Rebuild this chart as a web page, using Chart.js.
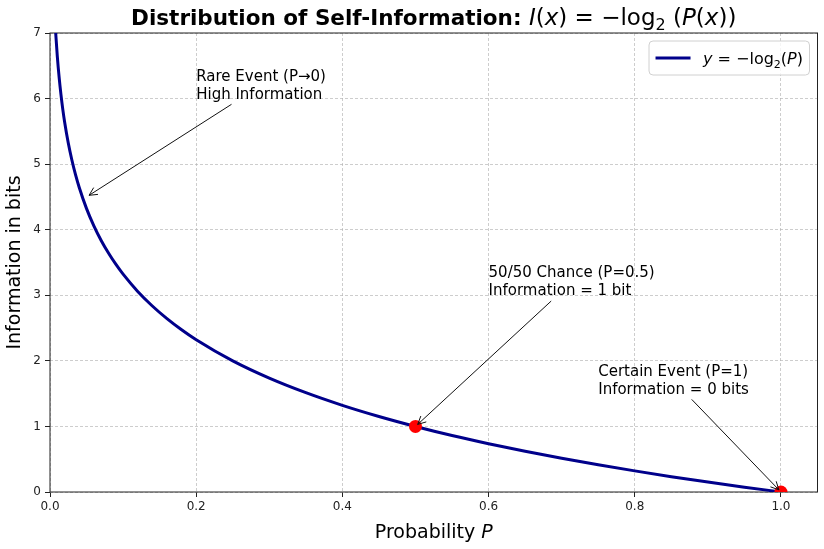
<!DOCTYPE html>
<html>
<head>
<meta charset="utf-8">
<script src="https://cdn.jsdelivr.net/npm/chart.js@4.4.1/dist/chart.umd.min.js"></script>
<style>
	html, body { margin: 0; padding: 0; background: #fff; }
	#wrap { width: 824px; height: 549px; }
</style>
</head>
<body>
<div id="wrap"><canvas id="mycanvas" width="824" height="549" style="width:824px;height:549px"></canvas></div>
<script>
// values
var probability = [0.007, 0.008, 0.01, 0.0125, 0.015, 0.0175, 0.02, 0.025, 0.03, 0.035, 0.04, 0.05, 0.06, 0.07, 0.08, 0.09, 0.1, 0.12, 0.14, 0.16, 0.18, 0.2, 0.25, 0.3, 0.35, 0.4, 0.45, 0.5, 0.55, 0.6, 0.65, 0.7, 0.75, 0.8, 0.85, 0.9, 0.95, 1.0];
var bits = [7.158, 6.966, 6.644, 6.322, 6.059, 5.836, 5.644, 5.322, 5.059, 4.836, 4.644, 4.322, 4.059, 3.836, 3.644, 3.474, 3.322, 3.059, 2.837, 2.644, 2.474, 2.322, 2.0, 1.737, 1.515, 1.322, 1.152, 1.0, 0.862, 0.737, 0.621, 0.515, 0.415, 0.322, 0.234, 0.152, 0.074, 0.0];

var keyProbability = [0.5, 1.0];
var keyBits = [1, 0];

var xTicks = [0, 0.2, 0.4, 0.6, 0.8, 1.0];
var yTicks = [0, 1, 2, 3, 4, 5, 6, 7];

var noteText = [
	['Rare Event (P\u21920)', 'High Information'],
	['50/50 Chance (P=0.5)', 'Information = 1 bit'],
	['Certain Event (P=1)', 'Information = 0 bits']
];
var noteTextAt = [[0.2, 6], [0.6, 3], [0.75, 1.5]];
var noteTarget = [[0.05, 4.5], [0.5, 1], [1, 0]];

var FONT = '"DejaVu Sans", sans-serif';

function runsWidth(ctx, runs) {
	var w = 0;
	for (var i = 0; i < runs.length; i++) {
		ctx.font = runs[i][1];
		w += ctx.measureText(runs[i][0]).width;
	}
	return w;
}

function drawRuns(ctx, runs, x, y, align) {
	// runs: [text, font, dy]
	var total = runsWidth(ctx, runs);
	var cx = align === 'center' ? x - total / 2 : x;
	ctx.textAlign = 'left';
	ctx.textBaseline = 'alphabetic';
	for (var j = 0; j < runs.length; j++) {
		ctx.font = runs[j][1];
		ctx.fillText(runs[j][0], cx, y + (runs[j][2] || 0));
		cx += ctx.measureText(runs[j][0]).width;
	}
	return total;
}

function drawArrow(ctx, x0, y0, x1, y1) {
	var a = Math.atan2(y1 - y0, x1 - x0);
	var hl = 8, hw = 4;
	ctx.beginPath();
	ctx.moveTo(x0, y0);
	ctx.lineTo(x1, y1);
	ctx.moveTo(x1 - hl * Math.cos(a) + hw * Math.sin(a), y1 - hl * Math.sin(a) - hw * Math.cos(a));
	ctx.lineTo(x1, y1);
	ctx.lineTo(x1 - hl * Math.cos(a) - hw * Math.sin(a), y1 - hl * Math.sin(a) + hw * Math.cos(a));
	ctx.stroke();
}

var framePlugin = {
	id: 'frame',
	beforeDatasetsDraw: function(chart) {
		var ctx = chart.ctx, ca = chart.chartArea;
		ctx.save();
		ctx.strokeStyle = '#222';
		ctx.lineWidth = 1;
		ctx.strokeRect(ca.left, ca.top, ca.right - ca.left, ca.bottom - ca.top);
		ctx.restore();
	},
	afterDraw: function(chart) {
		var ctx = chart.ctx, ca = chart.chartArea;
		var xs = chart.scales.x, ys = chart.scales.y;
		var mid = (ca.left + ca.right) / 2;
		ctx.save();
		ctx.fillStyle = '#000';

		// title
		var bold = 'bold 21.5px ' + FONT, reg = '23px ' + FONT, it = 'italic 23px ' + FONT, sub = '16px ' + FONT;
		drawRuns(ctx, [
			['Distribution of Self-Information: ', bold],
			['I', it], ['(', reg], ['x', it], [')', reg], [' = \u2212log', reg], ['2', sub, 5],
			[' (', reg], ['P', it], ['(', reg], ['x', it], ['))', reg]
		], mid, 25, 'center');

		// x axis label
		drawRuns(ctx, [['Probability ', '19px ' + FONT], ['P', 'italic 19px ' + FONT]], mid, 538, 'center');

		// annotations
		var fs = 15, step = 18;
		ctx.strokeStyle = '#111';
		ctx.lineWidth = 1;
		for (var i = 0; i < noteText.length; i++) {
			var lines = noteText[i];
			var tx = xs.getPixelForValue(noteTextAt[i][0]);
			var ty = ys.getPixelForValue(noteTextAt[i][1]);
			ctx.font = fs + 'px ' + FONT;
			var w = 0;
			for (var k = 0; k < lines.length; k++) {
				var b = ty - (lines.length - 1 - k) * step;
				ctx.fillText(lines[k], tx, b);
				w = Math.max(w, ctx.measureText(lines[k]).width);
			}
			var top = ty - (lines.length - 1) * step - 0.8 * fs;
			var bottom = ty + 0.25 * fs;
			var cx = tx + w / 2, cy = (top + bottom) / 2;
			var px = xs.getPixelForValue(noteTarget[i][0]);
			var py = ys.getPixelForValue(noteTarget[i][1]);
			var dx = px - cx, dy = py - cy;
			var t = 1;
			if (dx !== 0) t = Math.min(t, Math.abs((w / 2 + 2) / dx));
			if (dy !== 0) t = Math.min(t, Math.abs(((bottom - top) / 2 + 2) / dy));
			var sx = cx + dx * t, sy = cy + dy * t;
			var len = Math.sqrt((px - sx) * (px - sx) + (py - sy) * (py - sy));
			var ex = px - (px - sx) / len * 3, ey = py - (py - sy) / len * 3;
			drawArrow(ctx, sx, sy, ex, ey);
		}

		// legend
		var lf = '16px ' + FONT, lfi = 'italic 16px ' + FONT, lsub = '11px ' + FONT;
		var runs = [['y', lfi], [' = \u2212log', lf], ['2', lsub, 4], ['(', lf], ['P', lfi], [')', lf]];
		var tw = runsWidth(ctx, runs);
		var pad = 6.5, handle = 35, gap = 12.5;
		var bw = pad + handle + gap + tw + pad, bh = 34;
		var bx = ca.right - 8 - bw, by = ca.top + 8;
		ctx.beginPath();
		if (ctx.roundRect) ctx.roundRect(bx, by, bw, bh, 4); else ctx.rect(bx, by, bw, bh);
		ctx.fillStyle = 'rgba(255,255,255,0.8)';
		ctx.fill();
		ctx.lineWidth = 1;
		ctx.strokeStyle = '#d0d0d0';
		ctx.stroke();
		ctx.strokeStyle = 'darkblue';
		ctx.lineWidth = 3;
		ctx.beginPath();
		ctx.moveTo(bx + pad, by + bh / 2);
		ctx.lineTo(bx + pad + handle, by + bh / 2);
		ctx.stroke();
		ctx.fillStyle = '#000';
		drawRuns(ctx, runs, bx + pad + handle + gap, by + bh / 2 + 6, 'left');
		ctx.restore();
	}
};

var curve = probability.map(function(p, i) { return {x: p, y: bits[i]}; });
var keys = keyProbability.map(function(p, i) { return {x: p, y: keyBits[i]}; });

var ctx = document.getElementById('mycanvas');
var chart = new Chart(ctx, {
	type: 'scatter',
	data: {
		datasets: [
			{
				label: 'y = \u2212log2(P)',
				data: curve,
				showLine: true,
				borderColor: 'darkblue',
				backgroundColor: 'darkblue',
				borderWidth: 3,
				pointRadius: 0,
				cubicInterpolationMode: 'monotone',
				clip: 0,
				order: 1
			},
			{
				label: 'key points',
				data: keys,
				showLine: false,
				backgroundColor: 'red',
				borderColor: 'red',
				pointRadius: 6.5,
				borderWidth: 0,
				clip: 0,
				order: 0
			}
		]
	},
	options: {
		responsive: false,
		animation: false,
		layout: { padding: { top: 33, right: 6, left: 0, bottom: 0 } },
		plugins: {
			legend: { display: false },
			title: { display: false },
			tooltip: { enabled: false }
		},
		scales: {
			x: {
				type: 'linear',
				min: 0,
				max: 1.05,
				afterBuildTicks: function(scale) { scale.ticks = xTicks.map(function(v) { return {value: v}; }); },
				afterFit: function(scale) { scale.height = 57; },
				ticks: {
					callback: function(v) { return v.toFixed(1); },
					font: { family: FONT, size: 12 },
					color: '#222',
					padding: 3,
					maxRotation: 0
				},
				grid: {
					color: 'rgba(176,176,176,0.8)',
					lineWidth: 0.8,
					tickColor: '#222',
					tickLength: 5,
					tickWidth: 1,
					tickBorderDash: []
				},
				border: { display: false, dash: [3, 2] }
			},
			y: {
				type: 'linear',
				min: 0,
				max: 7,
				afterBuildTicks: function(scale) { scale.ticks = yTicks.map(function(v) { return {value: v}; }); },
				afterFit: function(scale) { scale.width = 50; },
				ticks: {
					callback: function(v) { return String(v); },
					font: { family: FONT, size: 12 },
					color: '#222',
					padding: 4
				},
				grid: {
					color: 'rgba(176,176,176,0.8)',
					lineWidth: 0.8,
					tickColor: '#222',
					tickLength: 5,
					tickWidth: 1,
					tickBorderDash: []
				},
				border: { display: false, dash: [3, 2] },
				title: {
					display: true,
					text: 'Information in bits',
					font: { family: FONT, size: 19 },
					color: '#000',
					padding: { top: 4, bottom: 2 }
				}
			}
		}
	},
	plugins: [framePlugin]
});
</script>
</body>
</html>
